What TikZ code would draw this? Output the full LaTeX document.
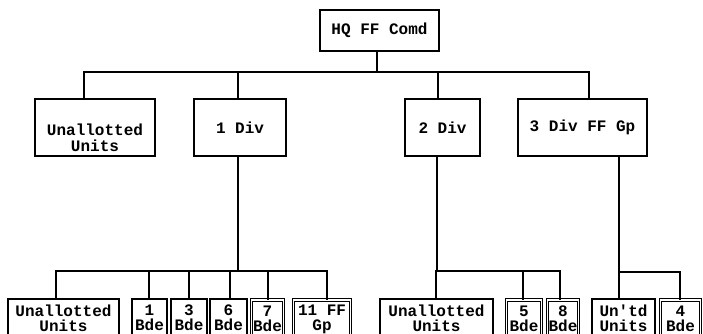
\documentclass[tikz,border=0pt]{standalone}
\usepackage{fontspec}
\setmonofont{Liberation Mono}
\begin{document}
\begin{tikzpicture}[x=1pt,y=-1pt,
  box/.style={draw, line width=1.7pt, inner sep=0pt, align=center,
    font=\ttfamily\bfseries\fontsize{16}{16}\selectfont},
  lowbox/.style={box, minimum height=38pt,
    font=\ttfamily\bfseries\fontsize{16}{15}\selectfont},
  dbox/.style={lowbox, line width=0.9pt, double, double distance=1.8pt},
  link/.style={line width=1.8pt}]
\fill[white] (0,0) rectangle (703,334);
\clip (0,0) rectangle (703,334);
% top level
\node[box, minimum width=119pt, minimum height=41pt] (hq) at (379.5,30.5) {HQ FF Comd};
\node[box, minimum width=120pt, minimum height=57pt, text height=51pt, text depth=4pt] (unu) at (95,127.5) {Unallotted\\Units};
\node[box, minimum width=92pt, minimum height=57pt] (div1) at (240,127.5) {1 Div};
\node[box, minimum width=75pt, minimum height=57pt] (div2) at (442.5,127.5) {2 Div};
\node[box, minimum width=129pt, minimum height=57pt] (div3) at (582.5,127.5) {3 Div FF Gp};
% bottom level
\node[lowbox, minimum width=111pt] (bu1) at (63.5,318) {Unallotted\\Units};
\node[lowbox, minimum width=35pt] (b1) at (149.5,318) {1\\Bde};
\node[lowbox, minimum width=36pt] (b3) at (189,318) {3\\Bde};
\node[lowbox, minimum width=37pt] (b6) at (228.5,318) {6\\Bde};
\node[dbox, minimum width=32pt] (b7) at (267.5,319) {7\\Bde};
\node[dbox, minimum width=57pt] (g11) at (322,319) {11 FF\\Gp};
\node[lowbox, minimum width=113pt] (bu2) at (436.5,318) {Unallotted\\Units};
\node[dbox, minimum width=35pt] (b5) at (524,319) {5\\Bde};
\node[dbox, minimum width=31pt] (b8) at (563,319) {8\\Bde};
\node[lowbox, minimum width=63pt] (utd) at (623.5,318) {Un'td\\Units};
\node[dbox, minimum width=40pt] (b4) at (680.5,319) {4\\Bde};
% junctions
\coordinate (j0) at (377,72);
\coordinate (j1) at (238,271);
\coordinate (j2) at (437,271);
\coordinate (j3) at (619,272);
% top connectors
\draw[link] ([xshift=-2.5pt]hq.south) -- (j0);
\draw[link] ([xshift=-11pt]unu.north) |- (j0);
\draw[link] ([xshift=-2pt]div1.north) |- (j0);
\draw[link] ([xshift=-4.5pt]div2.north) |- (j0);
\draw[link] ([xshift=6.5pt]div3.north) |- (j0);
% 1 Div
\draw[link] ([xshift=-2pt]div1.south) -- (j1);
\draw[link] ([xshift=-7.5pt]bu1.north) |- (j1);
\draw[link] ([xshift=-0.5pt]b1.north) |- (j1);
\draw[link] (b3.north) |- (j1);
\draw[link] ([xshift=1.5pt]b6.north) |- (j1);
\draw[link] ([xshift=0.5pt]b7.north) |- (j1);
\draw[link] ([xshift=5pt]g11.north) |- (j1);
% 2 Div
\draw[link] ([xshift=-5.5pt]div2.south) -- (j2);
\draw[link] ([xshift=-0.5pt]bu2.north) |- (j2);
\draw[link] ([xshift=-1pt]b5.north) |- (j2);
\draw[link] ([xshift=-3pt]b8.north) |- (j2);
% 3 Div FF Gp
\draw[link] ([xshift=36.5pt]div3.south) -- (j3);
\draw[link] ([xshift=-4.5pt]utd.north) |- (j3);
\draw[link] ([xshift=-0.5pt]b4.north) |- (j3);
\end{tikzpicture}
\end{document}
